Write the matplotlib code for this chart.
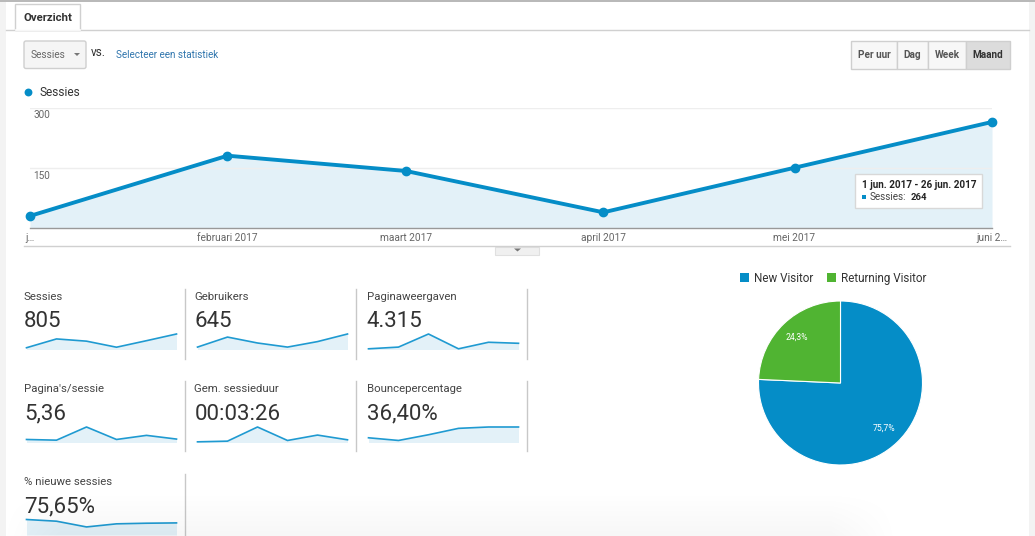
import numpy as np
import matplotlib
matplotlib.use("Agg")
import matplotlib.pyplot as plt
import matplotlib.dates as mdates
from matplotlib.patches import Rectangle, FancyBboxPatch, Polygon

plt.rcParams['font.family'] = ['Roboto', 'DejaVu Sans']

# ---- data
months = ['2017-01-01', '2017-02-01', '2017-03-01', '2017-04-01', '2017-05-01', '2017-06-01']
sessions = [30, 180, 142, 39, 150, 264]
month_labels = ['j…', 'februari 2017', 'maart 2017', 'april 2017', 'mei 2017', 'juni 2…']
y_ticks = [150, 300]

kpi_names = ['Sessies', 'Gebruikers', 'Paginaweergaven', "Pagina's/sessie",
             'Gem. sessieduur', 'Bouncepercentage', '% nieuwe sessies']
kpi_values = ['805', '645', '4.315', '5,36', '00:03:26', '36,40%', '75,65%']
spark_sessies = [30, 180, 142, 39, 150, 264]
spark_gebruikers = [33, 170, 89, 33, 108, 212]
spark_pageviews = [91, 318, 2043, 91, 954, 818]
spark_pps = [2.2, 1.7, 11.3, 2.2, 5.2, 2.5]
spark_duur = [30, 61, 700, 91, 335, 122]
spark_bounce = [14.6, 6.3, 24, 43.8, 48, 48]
spark_nieuw = [100, 89, 52, 72, 76, 78]
sparks = [spark_sessies, spark_gebruikers, spark_pageviews, spark_pps,
          spark_duur, spark_bounce, spark_nieuw]

pie_labels = ['New Visitor', 'Returning Visitor']
pie_values = [75.7, 24.3]
pie_texts = ['75,7%', '24,3%']

BLUE = '#058dc7'
GREEN = '#50b432'
FILL = '#e3f1f8'
W, H = 1035, 536

fig = plt.figure(figsize=(W / 100, H / 100), dpi=100, facecolor='white')

def px_axes(x0, y0, x1, y1, **kw):
    """axes given in reference pixel coordinates (y downward)"""
    return fig.add_axes([x0 / W, 1 - y1 / H, (x1 - x0) / W, (y1 - y0) / H], **kw)

# ---- page chrome
bg = px_axes(0, 0, W, H)
bg.set_xlim(0, W); bg.set_ylim(H, 0); bg.axis('off')
bg.add_patch(Rectangle((0, 0), 5.5, H, fc='#f3f3f3', ec='none'))
bg.add_patch(Rectangle((1029, 0), 6, H, fc='#f3f3f3', ec='none'))
bg.add_patch(Rectangle((0, 0), W, 2, fc='#b9b9b9', ec='none'))
bg.plot([5.5, 1029], [30, 30], color='#d0d0d0', lw=1)
# tab
bg.add_patch(Polygon([(15, 30), (15, 4), (80, 4), (80, 30)], closed=True,
                     fc='white', ec='#d0d0d0', lw=1, zorder=2))
bg.plot([15.5, 79.5], [30, 30], color='white', lw=1.2, zorder=3)
bg.text(48, 18, 'Overzicht', fontsize=8.2, fontweight='bold', color='#333333',
        ha='center', va='center', zorder=4)
# dropdown
bg.add_patch(FancyBboxPatch((24, 41), 62, 27.5, boxstyle='round,pad=0,rounding_size=2',
                            fc='#f5f5f5', ec='#cfcfcf', lw=1))
bg.text(31, 54.5, 'Sessies', fontsize=7.3, color='#666666', va='center')
bg.add_patch(Polygon([(74, 53), (80, 53), (77, 56)], closed=True, fc='#777777', ec='none'))
bg.text(91, 52, 'vs.', fontsize=8.5, color='#333333', va='center')
bg.text(116, 54.5, 'Selecteer een statistiek', fontsize=7.1, color='#2f75ad', va='center')
# period buttons
btn_edges = [851, 897, 928, 966, 1010]
btn_names = ['Per uur', 'Dag', 'Week', 'Maand']
for i, name in enumerate(btn_names):
    active = name == 'Maand'
    bg.add_patch(Rectangle((btn_edges[i], 40.5), btn_edges[i + 1] - btn_edges[i], 28,
                           fc='#dcdcdc' if active else '#f7f7f7', ec='#cfcfcf', lw=1))
    bg.text((btn_edges[i] + btn_edges[i + 1]) / 2, 54.5, name, fontsize=7.2, fontweight='bold',
            color='#333333' if active else '#555555', ha='center', va='center')
# legend of line chart
bg.scatter([28], [92], s=32, color=BLUE, lw=0)
bg.text(39, 92.5, 'Sessies', fontsize=8.6, color='#333333', va='center')
# lower rule and collapse handle
bg.plot([24, 1010], [246, 246], color='#d0d0d0', lw=1)
bg.add_patch(Rectangle((495, 247), 44, 8, fc='#f0f0f0', ec='#e0e0e0', lw=0.8))
bg.add_patch(Polygon([(514, 248.5), (521, 248.5), (517.5, 251.5)], closed=True, fc='#777777', ec='none'))

# ---- main line chart
dates = mdates.date2num(np.array(months, dtype='datetime64[D]'))
ax = px_axes(30, 107.5, 992, 228)
ax.patch.set_alpha(0)
ax.fill_between(dates, sessions, 0, color=FILL, lw=0, zorder=1)
ax.plot(dates, sessions, color=BLUE, lw=2.8, marker='o', ms=6, zorder=3, clip_on=False)
ax.set_xlim(dates[0], dates[-1])
ax.set_ylim(0, 300)
ax.set_yticks(y_ticks)
ax.set_yticklabels([])
ax.set_xticks(dates)
ax.set_xticklabels([])
ax.tick_params(length=0)
ax.grid(axis='y', color='#eeeeee', lw=1, zorder=0)
for s in ['top', 'left', 'right']:
    ax.spines[s].set_visible(False)
ax.spines['bottom'].set_color('#999999')
ax.spines['bottom'].set_linewidth(1)
for v in y_ticks:
    ax.annotate(str(v), (0, v), xycoords=('axes fraction', 'data'), xytext=(3, -8),
                textcoords='offset pixels', fontsize=7.2, color='#666666', va='center')
for d, lab in zip(dates, month_labels):
    ax.annotate(lab, (d, 0), xycoords=('data', 'axes fraction'), xytext=(0, -10),
                textcoords='offset pixels', fontsize=7.3, color='#666666', ha='center', va='center',
                annotation_clip=False)

# tooltip
bg2 = px_axes(0, 0, W, H)
bg2.set_xlim(0, W); bg2.set_ylim(H, 0); bg2.axis('off'); bg2.patch.set_alpha(0)
bg2.add_patch(Rectangle((856.5, 175), 126, 33.5, fc='#cccccc', ec='none', alpha=0.6))
bg2.add_patch(Rectangle((855, 173.5), 127, 34, fc='white', ec='#d8d8d8', lw=1))
bg2.text(862, 184.5, '1 jun. 2017 - 26 jun. 2017', fontsize=7.1, fontweight='bold', color='#222222', va='center')
bg2.add_patch(Rectangle((862, 194.5), 4, 4, fc=BLUE, ec='none'))
bg2.text(870, 197, 'Sessies:', fontsize=7.1, color='#444444', va='center')
bg2.text(910.5, 197, str(sessions[-1]), fontsize=6.8, fontweight='bold', color='#222222', va='center')

# ---- KPI tiles
col_x = [24, 194.5, 366.5]
spark_x = [(26.5, 176.5), (197.5, 347.5), (368.5, 518.5)]
div_x = [185, 356, 527]
row_label_y = [297, 389, 482]
row_value_y = [321.5, 414, 506.5]
row_base_y = [349.5, 442.5, 535]
row_div = [(289, 359), (381, 451), (474, 536)]
for i, (name, val, sp) in enumerate(zip(kpi_names, kpi_values, sparks)):
    r, c = divmod(i, 3)
    bg2.text(col_x[c], row_label_y[r], name, fontsize=8.2, color='#444444', va='center')
    bg2.text(col_x[c], row_value_y[r], val, fontsize=16, color='#333333', va='center')
    bg2.plot([div_x[c]] * 2, row_div[r], color='#c8c8c8', lw=1)
    x0, x1 = spark_x[c]
    a = px_axes(x0, row_base_y[r] - 15.5, x1, row_base_y[r])
    a.patch.set_alpha(0)
    xs = np.arange(len(sp))
    a.fill_between(xs, sp, 0, color=FILL, lw=0)
    a.plot(xs, sp, color='#1f9ad1', lw=1.2, clip_on=False)
    a.set_xlim(0, len(sp) - 1)
    a.set_ylim(0, max(sp))
    a.axis('off')

# ---- pie
cx, cy, rad = 840.5, 383, 82
pa = px_axes(cx - rad, cy - rad, cx + rad, cy + rad)
wedges, _ = pa.pie(pie_values, colors=[BLUE, GREEN], startangle=90, counterclock=False,
                   radius=1, wedgeprops=dict(edgecolor='white', linewidth=0.8))
pa.set_xlim(-1, 1); pa.set_ylim(-1, 1)
for w, t in zip(wedges, pie_texts):
    ang = np.deg2rad((w.theta1 + w.theta2) / 2)
    pa.text(0.77 * np.cos(ang), 0.77 * np.sin(ang), t, fontsize=6.2, color='white',
            ha='center', va='center')
bg2.add_patch(Rectangle((740, 273), 9, 9, fc=BLUE, ec='none'))
bg2.text(754, 282, pie_labels[0], fontsize=8.4, color='#333333', va='baseline')
bg2.add_patch(Rectangle((827, 273), 9, 9, fc=GREEN, ec='none'))
bg2.text(841, 282, pie_labels[1], fontsize=8.4, color='#333333', va='baseline')

# bottom shadow, on top of everything
sh = px_axes(0, 490, W, H)
sh.axis('off'); sh.patch.set_alpha(0)
vert = np.linspace(0, 0.035, 46)[:, None]
xs_sh = np.arange(W)
horiz = np.clip(xs_sh / 60, 0, 1) * np.clip((900 - xs_sh) / 70, 0, 1)
rgba = np.zeros((46, W, 4)); rgba[..., 3] = vert * horiz[None, :]
sh.imshow(rgba, aspect='auto', interpolation='bilinear')

fig.savefig('out.png', dpi=100)
